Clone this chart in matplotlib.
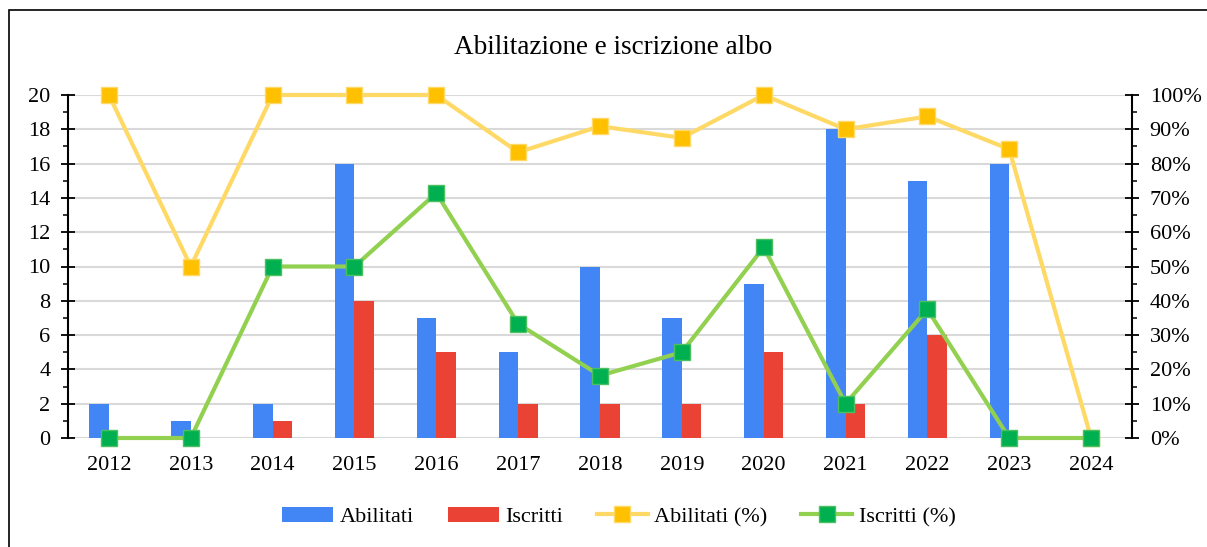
import matplotlib
matplotlib.use("Agg")
import matplotlib.pyplot as plt
import numpy as np
from matplotlib.patches import Rectangle
from matplotlib.ticker import MultipleLocator, FuncFormatter

years = ["2012", "2013", "2014", "2015", "2016", "2017", "2018", "2019", "2020", "2021", "2022", "2023", "2024"]
abilitati = [2, 1, 2, 16, 7, 5, 10, 7, 9, 18, 15, 16, 0]
iscritti = [0, 0, 1, 8, 5, 2, 2, 2, 5, 2, 6, 0, 0]
abilitati_pct = [100, 50, 100, 100, 100, 83.3, 90.9, 87.5, 100, 90, 93.75, 84.2, 0]
iscritti_pct = [0, 0, 50, 50, 71.4, 33.3, 18.2, 25, 55.6, 10, 37.5, 0, 0]

plt.rcParams['font.family'] = ['Liberation Serif', 'DejaVu Serif']

W, H = 1207, 547
fig = plt.figure(figsize=(W / 100, H / 100), dpi=100)

# border
fig.patches.append(Rectangle((9 / W, -0.1), 1.2, 1 - 10 / H + 0.1, transform=fig.transFigure,
                             fill=False, edgecolor='black', linewidth=1.2, zorder=0))

ax = fig.add_axes([68 / W, 1 - 438 / H, (1132 - 68) / W, (438 - 95) / H])
ax.set_facecolor('none')
x = np.arange(len(years))
bw = 0.24
b1 = ax.bar(x - bw / 2, abilitati, bw, color='#4285F4', label='Abilitati', zorder=2)
b2 = ax.bar(x + bw / 2, iscritti, bw, color='#EA4335', label='Iscritti', zorder=2)
ax.set_xlim(-0.5, len(years) - 0.5)
ax.set_ylim(0, 20)
ax.yaxis.set_major_locator(MultipleLocator(2))
ax.yaxis.set_minor_locator(MultipleLocator(1))
ax.grid(axis='y', color='#D9D9D9', linewidth=1.5, zorder=0)
ax.set_axisbelow(True)
for s in ['top', 'bottom', 'right']:
    ax.spines[s].set_visible(False)
ax.spines['left'].set_linewidth(1.5)
ax.set_xticks(x)
ax.set_xticklabels(years)
TS = 16
ax.tick_params(axis='x', length=0, pad=13, labelsize=TS)
ax.tick_params(axis='y', which='major', direction='inout', length=9.5, width=1.3, pad=8, labelsize=TS)
ax.tick_params(axis='y', which='minor', direction='out', length=3.8, width=1.1)

ax2 = ax.twinx()
l1, = ax2.plot(x, abilitati_pct, color='#FFD966', linewidth=3, marker='s', markersize=11,
               markerfacecolor='#FFC000', markeredgecolor='#FFD966', markeredgewidth=1,
               label='Abilitati (%)', zorder=3, clip_on=False)
l2, = ax2.plot(x, iscritti_pct, color='#92D050', linewidth=3, marker='s', markersize=11,
               markerfacecolor='#00B050', markeredgecolor='#4CC060', markeredgewidth=1,
               label='Iscritti (%)', zorder=3, clip_on=False)
ax2.set_ylim(0, 100)
ax2.yaxis.set_major_locator(MultipleLocator(10))
ax2.yaxis.set_minor_locator(MultipleLocator(5))
ax2.yaxis.set_major_formatter(FuncFormatter(lambda v, p: f"{int(round(v))}%"))
for s in ['top', 'bottom', 'left']:
    ax2.spines[s].set_visible(False)
ax2.spines['right'].set_linewidth(1.5)
ax2.tick_params(axis='y', which='major', direction='inout', length=9.5, width=1.3, pad=8, labelsize=TS)
ax2.tick_params(axis='y', which='minor', direction='out', length=3.5, width=1.1)

fig.text(613 / W, 1 - 47 / H, "Abilitazione e iscrizione albo", ha='center', va='center', fontsize=19.5)

fig.legend([b1, b2, l1, l2], ['Abilitati', 'Iscritti', 'Abilitati (%)', 'Iscritti (%)'],
           loc='center', bbox_to_anchor=(619 / W, 1 - 517 / H), ncol=4, frameon=False,
           fontsize=16, handlelength=2.3, columnspacing=1.5, handletextpad=0.3)

fig.savefig("out.png", dpi=100)
